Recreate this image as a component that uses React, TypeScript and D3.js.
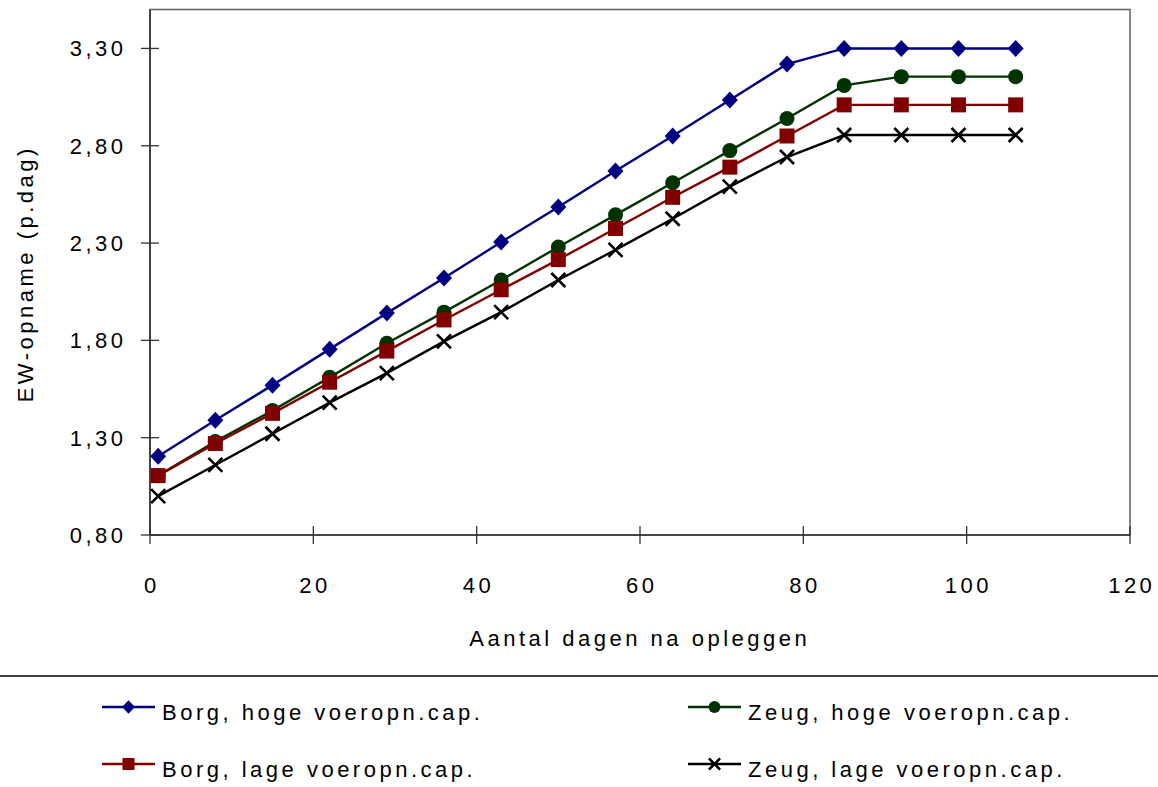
import React from "react";
import * as d3 from "d3";

const days = [1, 8, 15, 22, 29, 36, 43, 50, 57, 64, 71, 78, 85, 92, 99, 106];
const borgHoog = [1.205, 1.39, 1.57, 1.755, 1.94, 2.12, 2.305, 2.485, 2.67, 2.85, 3.035, 3.22, 3.3, 3.3, 3.3, 3.3];
const zeugHoog = [1.105, 1.28, 1.44, 1.61, 1.785, 1.945, 2.11, 2.28, 2.445, 2.61, 2.775, 2.94, 3.11, 3.155, 3.155, 3.155];
const borgLaag = [1.105, 1.27, 1.425, 1.585, 1.745, 1.905, 2.06, 2.215, 2.375, 2.535, 2.69, 2.85, 3.01, 3.01, 3.01, 3.01];
const zeugLaag = [1.0, 1.16, 1.32, 1.48, 1.632, 1.795, 1.945, 2.11, 2.265, 2.425, 2.59, 2.742, 2.855, 2.855, 2.855, 2.855];

const xTicks = [0, 20, 40, 60, 80, 100, 120];
const yTicks = [0.8, 1.3, 1.8, 2.3, 2.8, 3.3];

const seriesNames = [
  "Borg, hoge voeropn.cap.",
  "Zeug, hoge voeropn.cap.",
  "Borg, lage voeropn.cap.",
  "Zeug, lage voeropn.cap.",
];
const seriesValues = [borgHoog, zeugHoog, borgLaag, zeugLaag];
const seriesColors = ["#000080", "#003300", "#800000", "#000000"];
const seriesMarkers = ["diamond", "circle", "square", "cross"];

const FONT = "'Liberation Sans', Arial, sans-serif";
const FS = 22;
const LS = 3.5;

function Marker({ type, x, y, color, s = 1 }: { type: string; x: number; y: number; color: string; s?: number }) {
  if (type === "diamond") {
    const w = 8 * s, h = 8.5 * s;
    return <path d={`M${x},${y - h}L${x + w},${y}L${x},${y + h}L${x - w},${y}Z`} fill={color} />;
  }
  if (type === "circle") {
    return <circle cx={x} cy={y} r={7.5 * s} fill={color} />;
  }
  if (type === "square") {
    const a = 7.5 * s;
    return <rect x={x - a} y={y - a} width={2 * a} height={2 * a} fill={color} />;
  }
  const a = 7 * s;
  return (
    <path
      d={`M${x - a},${y - a}L${x + a},${y + a}M${x - a},${y + a}L${x + a},${y - a}`}
      stroke={color}
      strokeWidth={2.6}
      fill="none"
    />
  );
}

export default function App() {
  const W = 1158, H = 787;
  const x = d3.scaleLinear().domain([0, 120]).range([150, 1130]);
  const y = d3.scaleLinear().domain([0.8, 3.5]).range([535, 9.5]);
  const fmt = (v: number) => v.toFixed(2).replace(".", ",");
  const line = d3
    .line<number>()
    .x((_, i) => x(days[i]))
    .y((d) => y(d));

  const legendPos = [
    { lx: 102, row: 0 },
    { lx: 688, row: 0 },
    { lx: 102, row: 1 },
    { lx: 688, row: 1 },
  ];
  const rowLineY = [707, 764];

  return (
    <svg
      width={W}
      height={H}
      style={{ position: "absolute", left: 0, top: 0, background: "#fff" }}
      fontFamily={FONT}
    >
      <rect x={0} y={0} width={W} height={H} fill="#fff" />
      <rect x={x(0)} y={y(3.5)} width={x(120) - x(0)} height={y(0.8) - y(3.5)} fill="none" stroke="#666" strokeWidth={1.6} />
      <line x1={x(0)} x2={x(0)} y1={y(3.5)} y2={y(0.8)} stroke="#333" strokeWidth={1.6} />
      <line x1={x(0)} x2={x(120)} y1={y(0.8)} y2={y(0.8)} stroke="#333" strokeWidth={1.6} />
      {yTicks.map((t) => (
        <g key={"y" + t}>
          <line x1={x(0) - 9} x2={x(0) + 9} y1={y(t)} y2={y(t)} stroke="#333" strokeWidth={1.3} />
          <text x={123 + LS} y={y(t)} dy="0.36em" textAnchor="end" fontSize={FS} letterSpacing={LS} fill="#000">
            {fmt(t)}
          </text>
        </g>
      ))}
      {xTicks.map((t) => (
        <g key={"x" + t}>
          <line x1={x(t)} x2={x(t)} y1={y(0.8) - 9} y2={y(0.8) + 9} stroke="#333" strokeWidth={1.3} />
          <text x={x(t) + LS / 2} y={592.5} textAnchor="middle" fontSize={FS} letterSpacing={LS} fill="#000">
            {t}
          </text>
        </g>
      ))}
      <text x={638 + LS / 2} y={646} textAnchor="middle" fontSize={FS} letterSpacing={LS} fill="#000">
        Aantal dagen na opleggen
      </text>
      <text
        transform={`translate(33,${272 + LS / 2}) rotate(-90)`}
        textAnchor="middle"
        fontSize={FS}
        letterSpacing={LS}
        fill="#000"
      >
        EW-opname (p.dag)
      </text>

      {seriesValues.map((vals, si) => (
        <g key={"s" + si}>
          <path d={line(vals) || ""} fill="none" stroke={seriesColors[si]} strokeWidth={2.4} />
          {vals.map((v, i) => (
            <Marker key={i} type={seriesMarkers[si]} x={x(days[i])} y={y(v)} color={seriesColors[si]} />
          ))}
        </g>
      ))}

      <line x1={0} x2={W} y1={676} y2={676} stroke="#000" strokeWidth={1.5} />
      {seriesNames.map((name, si) => {
        const p = legendPos[si];
        const ly = rowLineY[p.row];
        return (
          <g key={"l" + si}>
            <line x1={p.lx} x2={p.lx + 53} y1={ly} y2={ly} stroke={seriesColors[si]} strokeWidth={2.4} />
            <Marker type={seriesMarkers[si]} x={p.lx + 26.5} y={ly} color={seriesColors[si]} s={0.8} />
            <text x={p.lx + 60} y={ly + 12.5} fontSize={FS} letterSpacing={LS} fill="#000">
              {name}
            </text>
          </g>
        );
      })}
    </svg>
  );
}
